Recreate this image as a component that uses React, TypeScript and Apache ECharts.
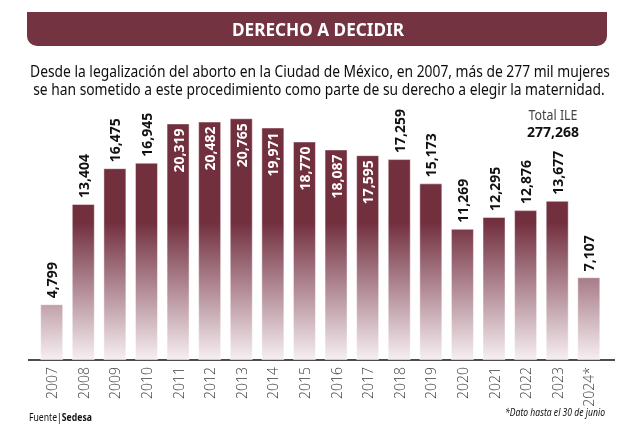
import React, { useEffect, useRef } from "react";
import * as echarts from "echarts";

const years = ["2007", "2008", "2009", "2010", "2011", "2012", "2013", "2014", "2015", "2016", "2017", "2018", "2019", "2020", "2021", "2022", "2023", "2024*"];
const abortions = [4799, 13404, 16475, 16945, 20319, 20482, 20765, 19971, 18770, 18087, 17595, 17259, 15173, 11269, 12295, 12876, 13677, 7107];
const insideThreshold = 17400;
const titleText = "DERECHO A DECIDIR";
const subtitleLines = [
  "Desde la legalización del aborto en la Ciudad de México, en 2007, más de 277 mil mujeres",
  "se han sometido a este procedimiento como parte de su derecho a elegir la maternidad.",
];
const totalLabel = "Total ILE";
const totalValue = 277268;
const sourceLabel = "Fuente";
const sourceName = "Sedesa";
const footnote = "*Dato hasta el 30 de junio";

const SANS = "'Noto Sans', 'Open Sans', sans-serif";
const fmt = (v: number) => v.toLocaleString("en-US");

const measureCtx = document.createElement("canvas").getContext("2d")!;
function textWidth(text: string, font: string) {
  measureCtx.font = font;
  return measureCtx.measureText(text).width;
}

export default function App() {
  const ref = useRef<HTMLDivElement>(null);
  useEffect(() => {
    document.body.style.margin = "0";
    const chart = echarts.init(ref.current!, null, { renderer: "svg" });
    const gradient = new echarts.graphic.LinearGradient(
      0, 222, 0, 360,
      [
        { offset: 0, color: "#722f3e" },
        { offset: 0.45, color: "#ad8490" },
        { offset: 1, color: "#f6eff1" },
      ],
      true
    );
    const data = abortions.map((v) => {
      const inside = v > insideThreshold;
      return {
        value: v,
        label: inside
          ? { position: "insideTop", rotate: 90, align: "right", verticalAlign: "middle", distance: 5, color: "#ffffff" }
          : { position: "top", rotate: 90, align: "left", verticalAlign: "middle", distance: 6, color: "#111111" },
      };
    });

    const titleFont = `bold 18px ${SANS}`;
    const titleScale = 172 / textWidth(titleText, titleFont);
    const subFont = `17px ${SANS}`;
    const subScale = 580 / textWidth(subtitleLines[0], subFont);
    const totFont = `14px ${SANS}`;
    const totScale = 49 / textWidth(totalLabel, totFont);
    const srcFontA = `11px ${SANS}`;
    const srcFontB = `bold 11px ${SANS}`;
    const srcScale = 63 / (textWidth(sourceLabel, srcFontA) + textWidth("|", srcFontB) + textWidth(sourceName, srcFontB));
    const footFont = `italic 10px ${SANS}`;
    const footScale = 100 / textWidth(footnote, footFont);

    chart.setOption({
      animation: false,
      grid: { left: 35.9, right: 15.4, top: 103.9, bottom: 77 },
      xAxis: {
        type: "category",
        data: years,
        axisLine: { show: false },
        axisTick: { show: false },
        axisLabel: {
          rotate: 90,
          margin: 7,
          fontSize: 14,
          color: "#3c3c3c",
          fontFamily: "'Open Sans', 'Noto Sans', sans-serif",
          fontWeight: 300,
        },
      },
      yAxis: {
        type: "value",
        min: 0,
        max: 22000,
        show: false,
        splitLine: { show: false },
      },
      series: [
        {
          type: "bar",
          data,
          barWidth: 23,
          itemStyle: { color: gradient, borderColor: "rgba(255,255,255,0.45)", borderWidth: 1 },
          label: {
            show: true,
            fontSize: 14,
            fontWeight: "bold",
            fontFamily: "'Noto Sans', sans-serif",
            formatter: (p: any) => fmt(p.value),
          },
        },
      ],
      graphic: [
        {
          type: "rect",
          shape: { x: 27, y: 12, width: 580, height: 34, r: [0, 0, 10, 10] },
          style: { fill: "#733340" },
          silent: true,
        },
        {
          type: "text",
          x: 318,
          y: 29,
          scaleX: titleScale,
          style: { text: titleText, fill: "#ffffff", font: titleFont, align: "center", verticalAlign: "middle" },
        },
        {
          type: "text",
          x: 320,
          y: 70,
          scaleX: subScale,
          style: { text: subtitleLines[0], fill: "#0d0d0d", font: subFont, align: "center", verticalAlign: "middle" },
        },
        {
          type: "text",
          x: 319,
          y: 88,
          scaleX: subScale,
          style: { text: subtitleLines[1], fill: "#0d0d0d", font: subFont, align: "center", verticalAlign: "middle" },
        },
        {
          type: "text",
          x: 553,
          y: 115,
          scaleX: totScale,
          style: { text: totalLabel, fill: "#444", font: totFont, align: "center", verticalAlign: "middle" },
        },
        {
          type: "text",
          x: 553,
          y: 131,
          style: { text: fmt(totalValue), fill: "#111", font: "bold 14px 'Noto Sans', sans-serif", align: "center", verticalAlign: "middle" },
        },
        {
          type: "line",
          shape: { x1: 28, y1: 360, x2: 615, y2: 360 },
          style: { stroke: "#111", lineWidth: 1.5 },
          silent: true,
        },
        {
          type: "text",
          x: 29,
          y: 417,
          scaleX: srcScale,
          style: {
            text: `{a|${sourceLabel}}{b||}{c|${sourceName}}`,
            verticalAlign: "middle",
            rich: {
              a: { font: srcFontA, fill: "#111" },
              b: { font: srcFontB, fill: "#8a2a3e" },
              c: { font: srcFontB, fill: "#111" },
            },
          },
        },
        {
          type: "text",
          x: 605,
          y: 412,
          scaleX: footScale,
          style: { text: footnote, fill: "#111", font: footFont, align: "right", verticalAlign: "middle" },
        },
      ],
    });
    return () => chart.dispose();
  }, []);
  return <div ref={ref} style={{ position: "fixed", left: 0, top: 0, width: 620, height: 437 }} />;
}
